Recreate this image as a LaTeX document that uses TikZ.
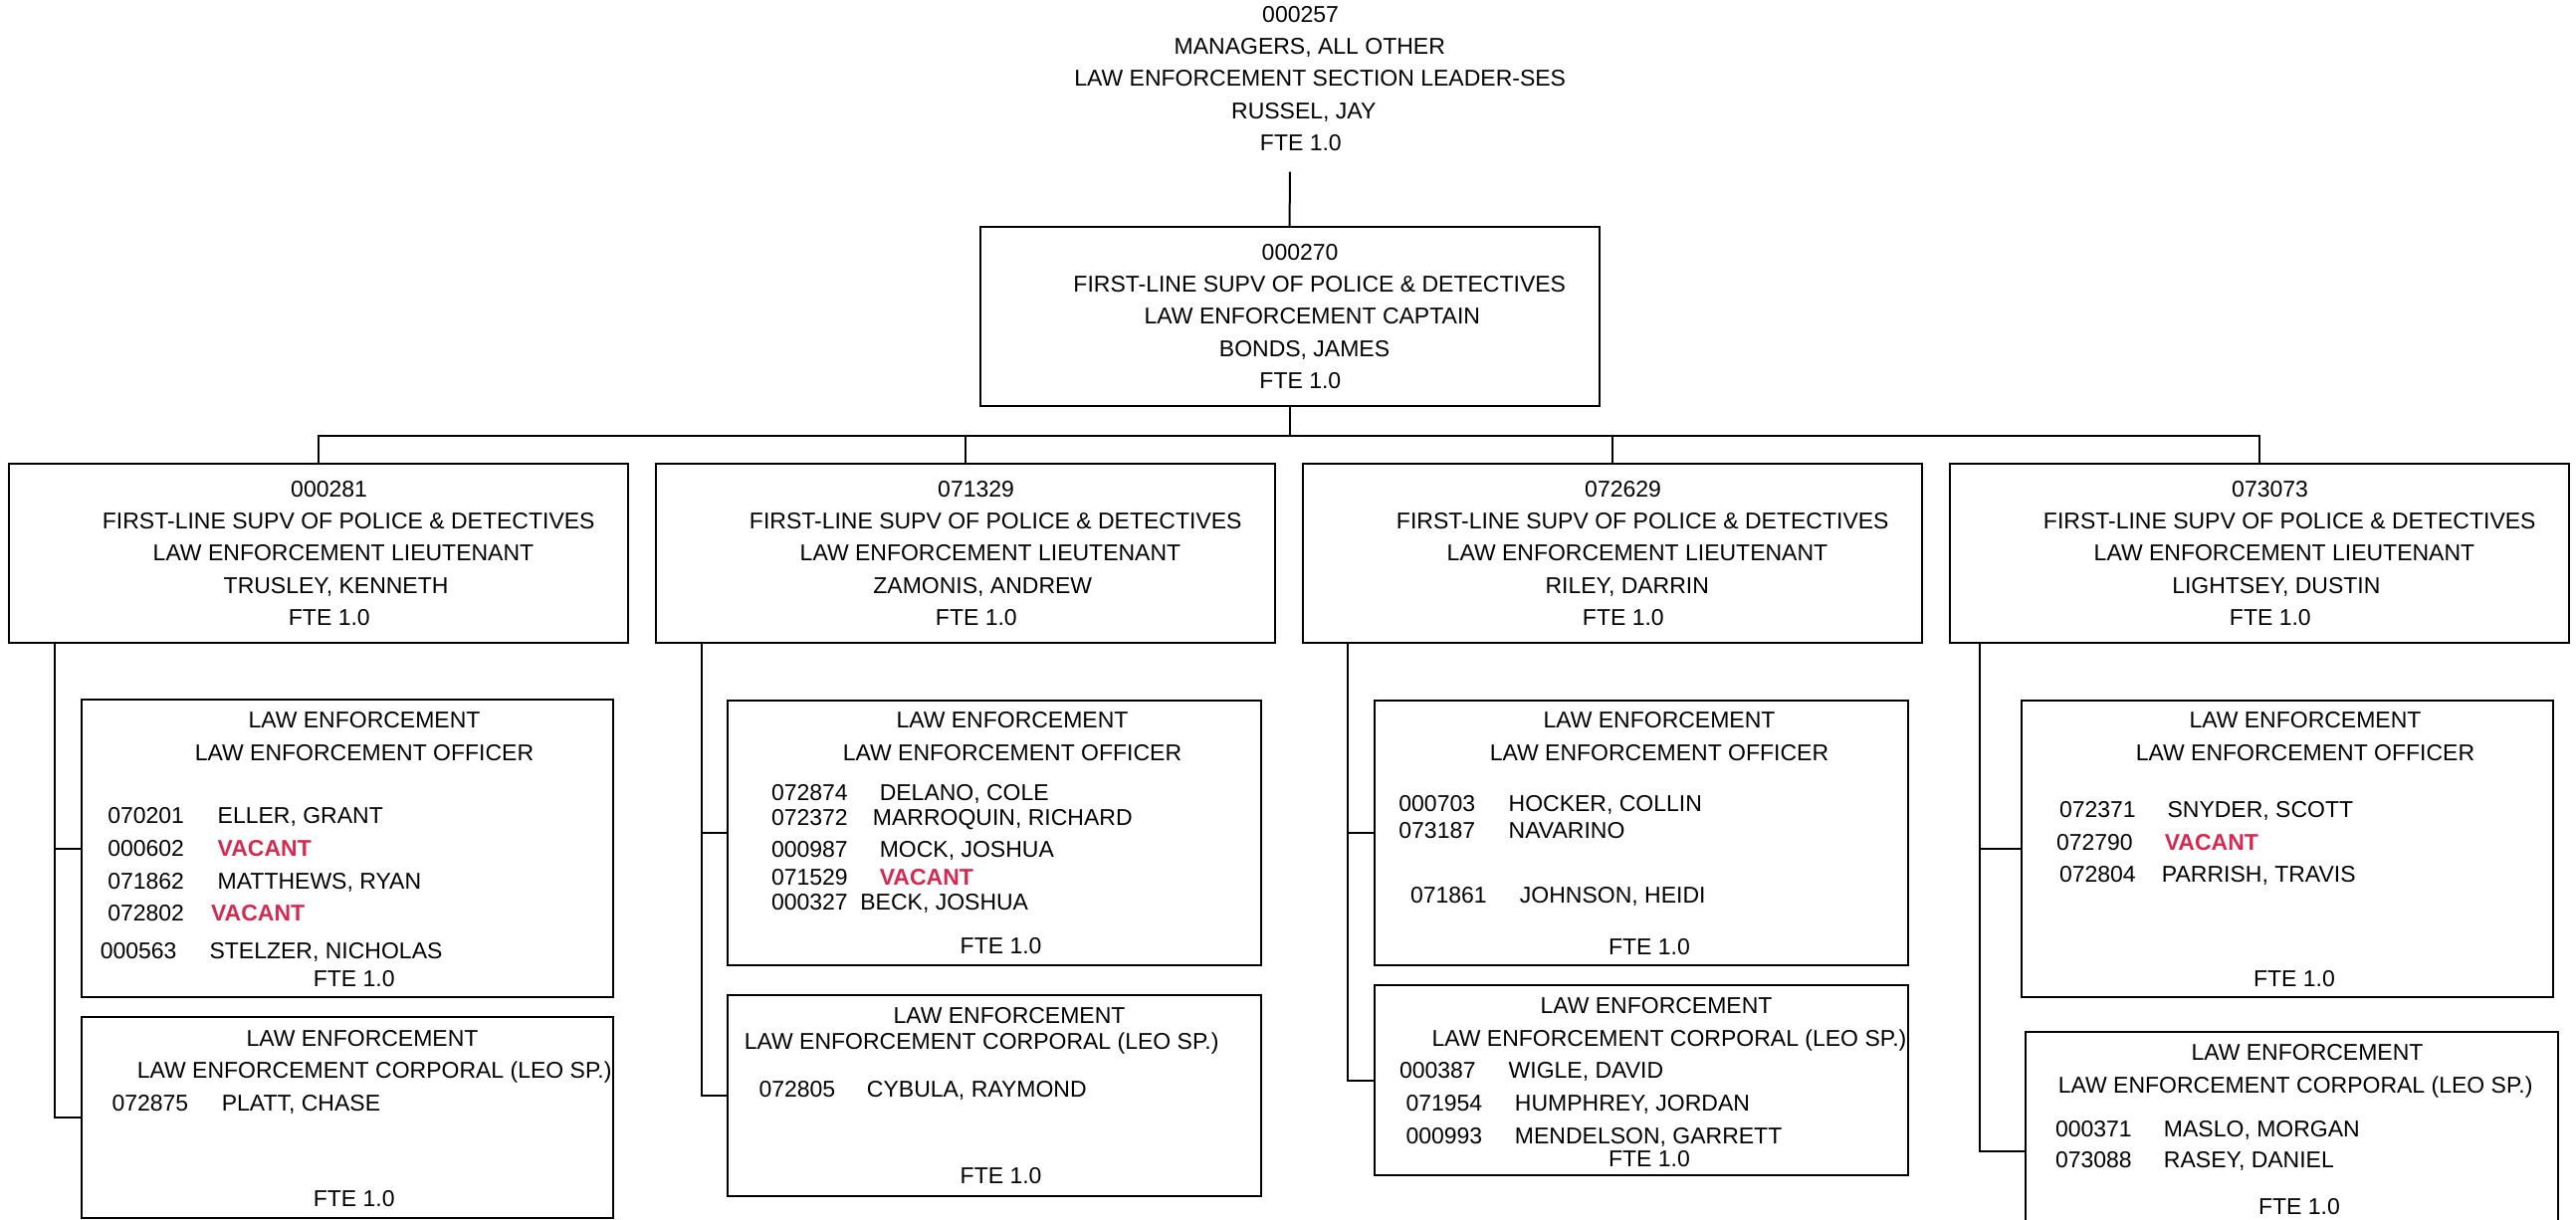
\documentclass[tikz,border=0pt]{standalone}
\usepackage{fontspec}
\setmainfont{Liberation Sans}
\usepackage{xcolor}
\usepackage{tikz}
\usetikzlibrary{calc}
\usetikzlibrary{positioning}

\definecolor{vacantred}{RGB}{212,42,82}
\newlength{\shiftw}
\newcommand{\shiftline}[1]{\settowidth{\shiftw}{#1}\hspace*{\dimexpr 7pt+0.094\shiftw\relax}#1}
\newcommand{\staffrow}[3]{\makebox[#2][l]{#1}#3}
\newcommand{\vacant}{\textbf{\color{vacantred}VACANT}}

\begin{document}
\begin{tikzpicture}[x=0.5pt,y=-0.5pt,line width=1pt,node distance=14pt,
	every node/.style={font=\fontsize{11.5}{16.15}\selectfont}]
	\tikzstyle{chief}=[draw, rectangle, minimum width=311pt, minimum height=90pt, inner sep=0pt, outer sep=0pt, align=center]
	\tikzstyle{unit}=[draw, rectangle, inner sep=0pt, outer sep=0pt]
	\tikzstyle{head}=[align=center, inner sep=0pt]
	\tikzstyle{lbl}=[anchor=base, inner sep=0pt]
	\tikzstyle{row}=[anchor=base west, inner sep=0pt]
	\useasboundingbox (0,0) rectangle (2588,1226);

	% top of the chart
	\node[head] (top) at (1296,79) {\shiftline{000257}\\\shiftline{MANAGERS, ALL OTHER}\\\shiftline{LAW ENFORCEMENT SECTION LEADER-SES}\\\shiftline{RUSSEL, JAY}\\\shiftline{FTE 1.0}};
	\node[chief] (cap) at (1295.5,318) {\shiftline{000270}\\\shiftline{FIRST-LINE SUPV OF POLICE \& DETECTIVES}\\\shiftline{LAW ENFORCEMENT CAPTAIN}\\\shiftline{BONDS, JAMES}\\\shiftline{FTE 1.0}};

	% lieutenants
	\node[chief] (lt1) at (320,556) {\shiftline{000281}\\\shiftline{FIRST-LINE SUPV OF POLICE \& DETECTIVES}\\\shiftline{LAW ENFORCEMENT LIEUTENANT}\\\shiftline{TRUSLEY, KENNETH}\\\shiftline{FTE 1.0}};
	\node[chief] (lt2) [right=of lt1] {\shiftline{071329}\\\shiftline{FIRST-LINE SUPV OF POLICE \& DETECTIVES}\\\shiftline{LAW ENFORCEMENT LIEUTENANT}\\\shiftline{ZAMONIS, ANDREW}\\\shiftline{FTE 1.0}};
	\node[chief] (lt3) [right=of lt2] {\shiftline{072629}\\\shiftline{FIRST-LINE SUPV OF POLICE \& DETECTIVES}\\\shiftline{LAW ENFORCEMENT LIEUTENANT}\\\shiftline{RILEY, DARRIN}\\\shiftline{FTE 1.0}};
	\node[chief] (lt4) [right=of lt3] {\shiftline{073073}\\\shiftline{FIRST-LINE SUPV OF POLICE \& DETECTIVES}\\\shiftline{LAW ENFORCEMENT LIEUTENANT}\\\shiftline{LIGHTSEY, DUSTIN}\\\shiftline{FTE 1.0}};

	% unit boxes
	\node[unit, minimum width=267pt, minimum height=149.5pt] (off1) at (349,852.5) {};
	\node[unit, minimum width=267pt, minimum height=101pt] (cor1) at (349,1123) {};
	\node[unit, minimum width=268pt, minimum height=133pt] (off2) at (999,837) {};
	\node[unit, minimum width=268pt, minimum height=101pt] (cor2) at (999,1101) {};
	\node[unit, minimum width=268pt, minimum height=133pt] (off3) at (1649,837) {};
	\node[unit, minimum width=268pt, minimum height=95.5pt] (cor3) at (1649,1085.5) {};
	\node[unit, minimum width=267pt, minimum height=149pt] (off4) at (2298,853) {};
	\node[unit, minimum width=267.5pt, minimum height=120pt] (cor4) at (2302.5,1157) {};

	% column 1
	\node[head] (h1) at (366,740) {LAW ENFORCEMENT\\LAW ENFORCEMENT OFFICER};
	\node[row] (p1a) at (107.3,827.5) {\staffrow{070201}{55.2pt}{ELLER, GRANT}};
	\node[row] (p1b) at (107.3,860.6) {\staffrow{000602}{55.2pt}{\vacant}};
	\node[row] (p1c) at (107.3,893) {\staffrow{071862}{55.2pt}{MATTHEWS, RYAN}};
	\node[row] (p1d) at (107.3,925.7) {\staffrow{072802}{51.9pt}{\vacant}};
	\node[row] (p1e) at (99.8,963.3) {\staffrow{000563}{54.9pt}{STELZER, NICHOLAS}};
	\node[lbl] (f1) at (355.7,991) {FTE 1.0};
	\node[lbl] (k1) at (364,1051) {LAW ENFORCEMENT};
	\node[row] (t1) at (136.8,1083.6) {LAW ENFORCEMENT CORPORAL (LEO SP.)};
	\node[row] (q1a) at (111.5,1116) {\staffrow{072875}{55.15pt}{PLATT, CHASE}};
	\node[lbl] (g1) at (355.7,1212.5) {FTE 1.0};

	% column 2
	\node[head] (h2) at (1017,740) {LAW ENFORCEMENT\\LAW ENFORCEMENT OFFICER};
	\node[row] (p2a) at (774,804) {\staffrow{072874}{54.4pt}{DELANO, COLE}};
	\node[row] (p2b) at (774,829) {\staffrow{072372}{51pt}{MARROQUIN, RICHARD}};
	\node[row] (p2c) at (774,861.6) {\staffrow{000987}{54.4pt}{MOCK, JOSHUA}};
	\node[row] (p2d) at (774,889) {\staffrow{071529}{54.4pt}{\vacant}};
	\node[row] (p2e) at (774,914) {\staffrow{000327}{44.7pt}{BECK, JOSHUA}};
	\node[lbl] (f2) at (1005.6,958) {FTE 1.0};
	\node[lbl] (k2) at (1014,1028) {LAW ENFORCEMENT};
	\node[row] (t2) at (746.8,1054.6) {LAW ENFORCEMENT CORPORAL (LEO SP.)};
	\node[row] (q2a) at (761.5,1102) {\staffrow{072805}{54.25pt}{CYBULA, RAYMOND}};
	\node[lbl] (g2) at (1005.6,1189) {FTE 1.0};

	% column 3
	\node[head] (h3) at (1667,740) {LAW ENFORCEMENT\\LAW ENFORCEMENT OFFICER};
	\node[row] (p3a) at (1404.4,815) {\staffrow{000703}{55.15pt}{HOCKER, COLLIN}};
	\node[row] (p3b) at (1404.4,842.5) {\staffrow{073187}{55.15pt}{NAVARINO}};
	\node[row] (p3c) at (1416,907.7) {\staffrow{071861}{55pt}{JOHNSON, HEIDI}};
	\node[lbl] (f3) at (1657,959) {FTE 1.0};
	\node[lbl] (k3) at (1664,1018.5) {LAW ENFORCEMENT};
	\node[row] (t3) at (1437.6,1051) {LAW ENFORCEMENT CORPORAL (LEO SP.)};
	\node[row] (q3a) at (1405,1083.6) {\staffrow{000387}{54.85pt}{WIGLE, DAVID}};
	\node[row] (q3b) at (1411.5,1116) {\staffrow{071954}{54.75pt}{HUMPHREY, JORDAN}};
	\node[row] (q3c) at (1411.5,1149) {\staffrow{000993}{54.75pt}{MENDELSON, GARRETT}};
	\node[lbl] (g3) at (1657,1172.4) {FTE 1.0};

	% column 4
	\node[head] (h4) at (2316,740) {LAW ENFORCEMENT\\LAW ENFORCEMENT OFFICER};
	\node[row] (p4a) at (2068,821.5) {\staffrow{072371}{54.3pt}{SNYDER, SCOTT}};
	\node[row] (p4b) at (2065,854) {\staffrow{072790}{54.4pt}{\vacant}};
	\node[row] (p4c) at (2068,886.6) {\staffrow{072804}{51.5pt}{PARRISH, TRAVIS}};
	\node[lbl] (f4) at (2305,991) {FTE 1.0};
	\node[lbl] (k4) at (2318,1065.6) {LAW ENFORCEMENT};
	\node[row] (t4) at (2066.8,1098) {LAW ENFORCEMENT CORPORAL (LEO SP.)};
	\node[row] (q4a) at (2064,1142) {\staffrow{000371}{54.5pt}{MASLO, MORGAN}};
	\node[row] (q4b) at (2064,1173.4) {\staffrow{073088}{54.5pt}{RASEY, DANIEL}};
	\node[lbl] (g4) at (2310,1220) {FTE 1.0};

	% lines
	\coordinate (bus) at (1295.5,438);
	\coordinate (d1) at ($(lt1.south west)+(45.5,0)$);
	\coordinate (d2) at ($(lt2.south west)+(45.5,0)$);
	\coordinate (d3) at ($(lt3.south west)+(45,0)$);
	\coordinate (d4) at ($(lt4.south west)+(29.5,0)$);
	\path (top) edge[shorten <=10pt] (cap);
	\draw (cap.south) -- (bus);
	\draw (bus) -| (lt1.north);
	\draw (bus) -| (lt2.north);
	\draw (bus) -| (lt3.north);
	\draw (bus) -| (lt4.north);
	\draw (d1) |- (off1.west);
	\draw (d1) |- (cor1.west);
	\draw (d2) |- (off2.west);
	\draw (d2) |- (cor2.west);
	\draw (d3) |- (off3.west);
	\draw (d3) |- (cor3.west);
	\draw (d4) |- (off4.west);
	\draw (d4) |- (cor4.west);
\end{tikzpicture}
\end{document}
